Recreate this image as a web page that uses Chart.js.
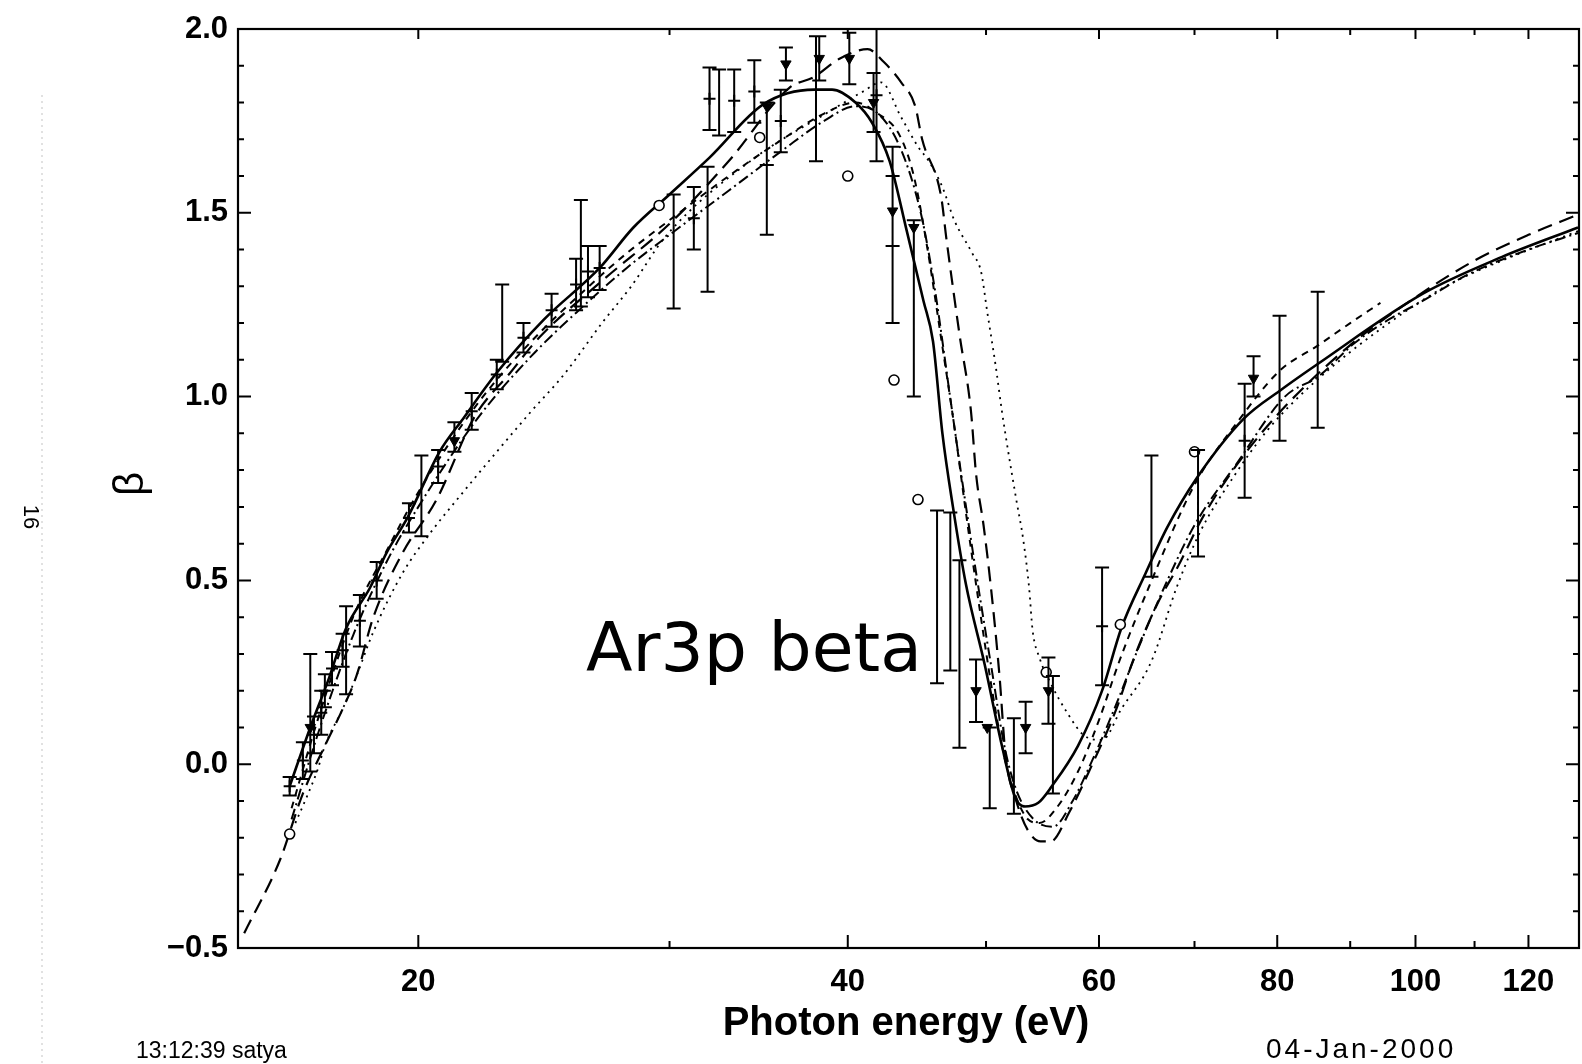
<!DOCTYPE html>
<html><head><meta charset="utf-8">
<script src="https://cdn.jsdelivr.net/npm/chart.js@4.4.1/dist/chart.umd.min.js"></script>
<style>html,body{margin:0;padding:0;background:#fff}#wrap{width:1582px;height:1064px;position:relative}</style>
</head><body><div id="wrap"><canvas id="c" width="1582" height="1064"></canvas></div>
<script>
// ---- axis ticks ----
const xTickValues = [20, 40, 60, 80, 100, 120];
const xMinorValues = [30, 50, 70, 90, 110];
const yTickValues = [-0.5, 0.0, 0.5, 1.0, 1.5, 2.0];

// ---- theory curves (photon energy eV, beta) ----
const solidE = [16.25,16.8,17.3,17.8,18.5,19.0,19.65,20.7,21.5,22.7,24.5,26.8,28.3,30,32,34.9,37.9,39.0,40.5,41.6,42.8,44.0,45.2,45.9,46.6,47.4,48.4,49.9,51.3,52.4,53.2,54.4,55.6,58,60.3,62.2,64.7,67.0,70.3,75.8,80.6,85.5,101.2,115,130];
const solidB = [-0.06,0.10,0.23,0.37,0.48,0.575,0.67,0.85,0.94,1.065,1.21,1.35,1.46,1.55,1.65,1.795,1.835,1.835,1.80,1.745,1.64,1.45,1.26,1.15,0.90,0.70,0.49,0.27,0.05,-0.09,-0.115,-0.105,-0.06,0.05,0.20,0.37,0.52,0.645,0.78,0.94,1.02,1.09,1.28,1.38,1.46];

const longDashE = [15.1,16.0,16.6,17.2,17.7,18.1,18.6,19.5,20.6,21.9,23.2,24.3,27,30,33,36.4,37.9,39.5,41.3,42.4,43.6,44.6,45.1,46.5,46.9,47.9,48.8,49.2,49.8,50.4,51.1,51.6,52.5,53.5,54.6,55.5,57.2,59.2,61.7,63.5,66,68.2,70.9,74.8,80,90,100,110,120,130];
const longDashB = [-0.46,-0.26,-0.08,0.05,0.15,0.24,0.40,0.575,0.72,0.945,1.065,1.16,1.32,1.47,1.64,1.84,1.87,1.92,1.945,1.91,1.855,1.79,1.70,1.545,1.43,1.17,0.96,0.79,0.65,0.48,0.24,0.025,-0.10,-0.18,-0.21,-0.21,-0.13,-0.01,0.15,0.29,0.44,0.54,0.67,0.81,0.95,1.14,1.27,1.37,1.44,1.495];

const dottedE = [16.4,16.7,17.0,17.2,17.7,18.1,18.6,19.5,20.4,21.5,22.7,24.0,25.3,26.9,28.2,29.8,34.3,39.0,41.0,42.2,43.6,44.8,45.6,46.6,47.5,48.9,49.6,50.1,50.8,51.3,51.8,52.5,53.1,53.6,53.9,54.5,55.5,57,58.5,60.3,62.2,65.3,68.0,70.6,74.5,78.8,85,95,105,115,130];
const dottedB = [-0.16,-0.09,-0.015,0.05,0.15,0.24,0.36,0.52,0.63,0.74,0.85,0.96,1.06,1.20,1.30,1.435,1.645,1.78,1.83,1.855,1.76,1.68,1.64,1.57,1.48,1.39,1.34,1.23,1.08,0.96,0.855,0.72,0.61,0.48,0.365,0.29,0.22,0.14,0.08,0.066,0.15,0.28,0.48,0.63,0.78,0.91,1.04,1.19,1.30,1.37,1.45];

const shortDashE = [16.3,17,18,19,20,22,24,26,28,30,33,36,38.5,40.5,42,43.5,44.5,45.5,46.5,47.5,48.5,49.5,50.5,51.5,52.5,53.5,54.5,56,58,60,62,65,70,75,80.3,85.5,90,94.5];
const shortDashB = [-0.12,0.12,0.40,0.58,0.74,0.98,1.15,1.28,1.39,1.48,1.60,1.70,1.77,1.80,1.77,1.71,1.60,1.40,1.16,0.92,0.66,0.42,0.20,0.02,-0.09,-0.15,-0.16,-0.12,-0.02,0.12,0.28,0.48,0.76,0.93,1.07,1.14,1.20,1.255];

const dashDotE = [16.3,17,18,19,20,22,24,26,28,30,33,36,38.5,40.5,42,43.5,45,46,47.3,48.2,49.3,50.5,51.5,52.5,54,55.7,57.5,59.5,61.5,64,67,70,75,81,85.5,90.6,95.8,100.6,109.2,120,130];
const dashDotB = [-0.15,0.08,0.35,0.55,0.70,0.94,1.11,1.24,1.35,1.44,1.56,1.67,1.75,1.79,1.77,1.68,1.50,1.30,0.97,0.75,0.50,0.25,0.05,-0.07,-0.15,-0.17,-0.10,0.02,0.15,0.32,0.50,0.65,0.82,1.00,1.055,1.145,1.21,1.255,1.335,1.40,1.445];

// ---- experimental points with error bars ----
const barE   = [16.25,16.6,16.8,16.9,17.1,17.2,17.4,17.7,17.8,18.2,18.7,19.7,20.1,20.65,21.2,21.8,22.7,22.9,23.7,24.8,25.8,26.0,26.3,26.8,30.2,31.2,31.9,32.0,32.5,33.3,34.4,35.1,35.1,35.9,36.2,38.0,38.2,40.1,41.7,41.9,43.0,43.0,44.5,46.2,47.2,47.9,49.2,50.3,52.3,53.3,55.3,55.7,60.3,65.3,70.4,75.9,77.0,80.3,85.4];
const barB   = [-0.06,0.01,0.14,0.08,0.14,0.20,0.26,0.31,0.31,0.39,0.50,0.67,0.73,0.81,0.89,0.96,1.06,1.20,1.16,1.235,1.305,1.39,1.34,1.35,1.395,1.485,1.455,1.81,1.80,1.805,1.83,1.62,1.715,1.75,1.905,1.81,1.92,1.92,1.80,1.82,1.505,1.44,1.24,0.455,0.47,0.30,0.20,-0.01,-0.005,0.10,0.20,0.08,0.375,0.675,0.71,0.88,1.055,1.05,1.10];
const barErr = [0.025,0.05,0.16,0.05,0.06,0.045,0.045,0.045,0.12,0.07,0.05,0.04,0.11,0.045,0.04,0.05,0.04,0.105,0.04,0.045,0.07,0.145,0.07,0.06,0.155,0.085,0.17,0.085,0.09,0.085,0.085,0.18,0.085,0.085,0.045,0.17,0.06,0.07,0.08,0.18,0.095,0.24,0.24,0.235,0.215,0.255,0.085,0.11,0.13,0.07,0.09,0.16,0.16,0.165,0.145,0.155,0.055,0.17,0.185];

const triE = [16.8,21.2,35.1,36.2,38.2,40.1,41.7,43.0,44.5,49.2,50.1,53.3,55.3,77.0];
const triB = [0.10,0.88,1.79,1.905,1.92,1.92,1.80,1.505,1.46,0.20,0.10,0.10,0.20,1.05];

const circE = [16.25,29.5,34.7,40.0,43.1,44.8,55.1,62.1,70.0];
const circB = [-0.19,1.52,1.705,1.60,1.045,0.72,0.25,0.38,0.85];

const crossE = [16.25,16.6,16.9,17.1,17.2,17.4,17.7,18.2,18.7,19.7,20.65,21.8,22.7,23.7,24.8,25.8,26.3,26.8,31.2,32.0,33.3,34.4,35.9,41.9,60.3,75.9];
const crossB = [-0.06,0.01,0.08,0.14,0.20,0.26,0.31,0.39,0.50,0.67,0.81,0.96,1.06,1.16,1.235,1.305,1.34,1.35,1.485,1.81,1.805,1.83,1.75,1.82,0.375,0.88];

const pts = (xs, ys) => xs.map((x, i) => ({x: x, y: ys[i]}));

function curve(xs, ys, dash, width) {
  return {type: 'scatter', showLine: true, data: pts(xs, ys), borderColor: '#000', borderWidth: width,
    borderDash: dash, pointRadius: 0, fill: false, cubicInterpolationMode: 'monotone', order: 5};
}

const tickFont = {family: '"Liberation Sans", Arial, sans-serif', size: 31, weight: 'bold'};

const frameAndTicks = {
  id: 'frameAndTicks',
  afterDatasetsDraw(chart) {
    const {ctx, chartArea: a, scales: {x, y}} = chart;
    ctx.save();
    ctx.strokeStyle = '#000';
    ctx.lineWidth = 2.2;
    ctx.setLineDash([]);
    ctx.strokeRect(a.left, a.top, a.right - a.left, a.bottom - a.top);
    ctx.lineWidth = 2;
    ctx.beginPath();
    for (let k = -5; k <= 20; k++) {
      const v = k / 10;
      const py = y.getPixelForValue(v);
      const len = (k % 5 === 0) ? 13 : 6;
      ctx.moveTo(a.left, py); ctx.lineTo(a.left + len, py);
      ctx.moveTo(a.right, py); ctx.lineTo(a.right - len, py);
    }
    xTickValues.forEach(v => {
      const px = x.getPixelForValue(v);
      ctx.moveTo(px, a.bottom); ctx.lineTo(px, a.bottom - 13);
      ctx.moveTo(px, a.top); ctx.lineTo(px, a.top + 10);
    });
    xMinorValues.forEach(v => {
      const px = x.getPixelForValue(v);
      ctx.moveTo(px, a.bottom); ctx.lineTo(px, a.bottom - 7);
      ctx.moveTo(px, a.top); ctx.lineTo(px, a.top + 6);
    });
    ctx.stroke();
    ctx.restore();
  }
};

const errorBars = {
  id: 'errorBars',
  afterDatasetsDraw(chart) {
    const {ctx, scales: {x, y}} = chart;
    ctx.save();
    ctx.strokeStyle = '#000';
    ctx.lineWidth = 2;
    ctx.setLineDash([]);
    ctx.beginPath();
    barE.forEach((e, i) => {
      const px = x.getPixelForValue(e);
      const y1 = y.getPixelForValue(barB[i] - barErr[i]);
      const y2 = y.getPixelForValue(barB[i] + barErr[i]);
      ctx.moveTo(px, y1); ctx.lineTo(px, y2);
      ctx.moveTo(px - 7, y1); ctx.lineTo(px + 7, y1);
      ctx.moveTo(px - 7, y2); ctx.lineTo(px + 7, y2);
    });
    ctx.stroke();
    ctx.restore();
  }
};

const texts = {
  id: 'texts',
  afterDraw(chart) {
    const ctx = chart.ctx;
    ctx.save();
    ctx.fillStyle = '#000';
    // scan artefact
    ctx.strokeStyle = 'rgba(0,0,0,0.16)';
    ctx.lineWidth = 1.5;
    ctx.setLineDash([2, 4]);
    ctx.beginPath(); ctx.moveTo(42, 95); ctx.lineTo(42, 1064); ctx.stroke();
    ctx.setLineDash([]);
    // axis titles
    ctx.textAlign = 'center';
    ctx.textBaseline = 'alphabetic';
    ctx.font = 'bold 40px "Liberation Sans", Arial, sans-serif';
    ctx.fillText('Photon energy (eV)', 906, 1035);
    ctx.save();
    ctx.translate(131, 484);
    ctx.rotate(-Math.PI / 2);
    ctx.textBaseline = 'middle';
    ctx.font = '42px "Liberation Sans", Arial, sans-serif';
    ctx.fillText('β', 0, 0);
    ctx.restore();
    // annotation
    ctx.textAlign = 'left';
    ctx.font = '68px "DejaVu Sans", sans-serif';
    ctx.fillText('Ar3p beta', 586, 671);
    // footer
    ctx.font = '23px "Liberation Sans", Arial, sans-serif';
    ctx.fillText('13:12:39 satya', 136, 1058);
    ctx.font = '28px "Liberation Sans", Arial, sans-serif';
    ctx.letterSpacing = '3px';
    ctx.fillText('04-Jan-2000', 1266, 1058);
    ctx.letterSpacing = '0px';
    ctx.save();
    ctx.translate(30, 517);
    ctx.rotate(Math.PI / 2);
    ctx.textAlign = 'center';
    ctx.textBaseline = 'middle';
    ctx.font = '22px "Liberation Sans", Arial, sans-serif';
    ctx.fillText('16', 0, 0);
    ctx.restore();
    ctx.restore();
  }
};

new Chart(document.getElementById('c'), {
  type: 'scatter',
  data: {
    datasets: [
      curve(solidE, solidB, [], 2.6),
      curve(longDashE, longDashB, [15, 8], 2.2),
      curve(shortDashE, shortDashB, [7, 6], 2.0),
      curve(dashDotE, dashDotB, [11, 4, 2, 4], 2.0),
      curve(dottedE, dottedB, [2, 5], 1.8),
      {type: 'scatter', data: pts(crossE, crossB), pointStyle: 'cross', pointRadius: 6, borderColor: '#000', borderWidth: 2, order: 2},
      {type: 'scatter', data: pts(triE, triB), pointStyle: 'triangle', rotation: 180, pointRadius: 6, backgroundColor: '#000', borderColor: '#000', borderWidth: 1, order: 1},
      {type: 'scatter', data: pts(circE, circB), pointStyle: 'circle', pointRadius: 5, backgroundColor: '#fff', borderColor: '#000', borderWidth: 1.6, order: 0}
    ]
  },
  options: {
    responsive: false,
    animation: false,
    devicePixelRatio: 1,
    layout: {autoPadding: false, padding: {top: 29, right: 3, left: 0, bottom: 0}},
    plugins: {legend: {display: false}, tooltip: {enabled: false}},
    scales: {
      x: {
        type: 'logarithmic', min: 14.95, max: 130.2, position: 'bottom',
        grid: {display: false, drawTicks: false}, border: {display: false},
        afterBuildTicks: s => { s.ticks = xTickValues.map(v => ({value: v})); },
        afterFit: s => { s.height = 116; },
        ticks: {color: '#000', font: tickFont, padding: 16, autoSkip: false, maxRotation: 0,
          callback: v => String(v)}
      },
      y: {
        type: 'linear', min: -0.5, max: 2.0,
        grid: {display: false, drawTicks: false}, border: {display: false},
        afterBuildTicks: s => { s.ticks = yTickValues.map(v => ({value: v})); },
        afterFit: s => { s.width = 238; },
        ticks: {color: '#000', font: tickFont, padding: 10,
          callback: v => (v < 0 ? '\u2212' : '') + Math.abs(Number(v)).toFixed(1)}
      }
    }
  },
  plugins: [errorBars, frameAndTicks, texts]
});
</script></body></html>
